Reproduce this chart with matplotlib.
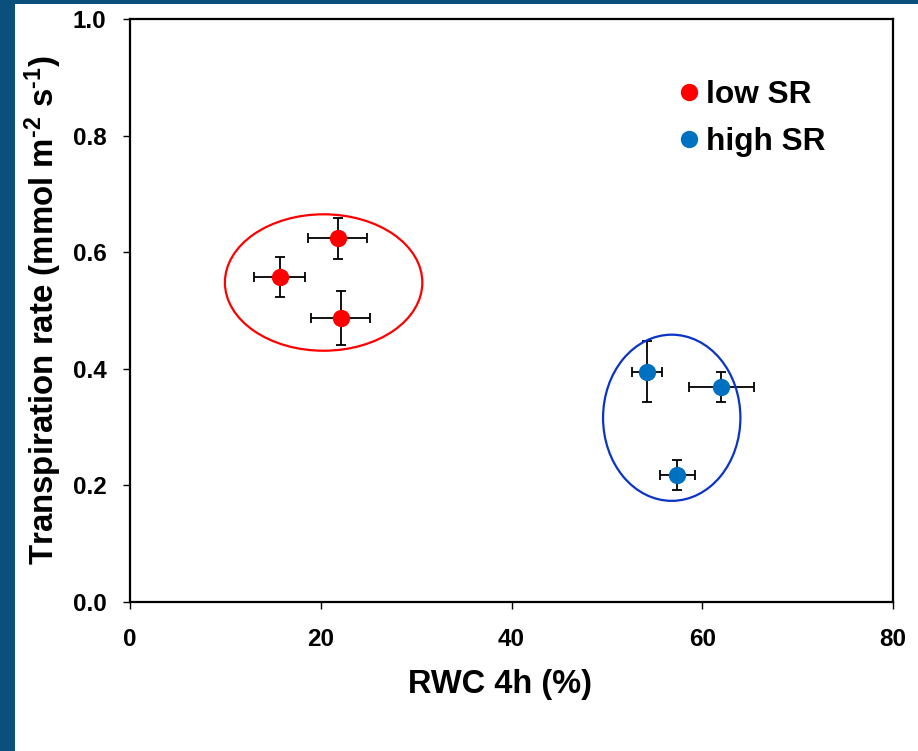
import matplotlib
matplotlib.use("Agg")
import matplotlib.pyplot as plt
from matplotlib.patches import Ellipse, Rectangle
from matplotlib.lines import Line2D

plt.rcParams['font.family'] = ['Liberation Sans', 'DejaVu Sans']
plt.rcParams['font.weight'] = 'bold'
plt.rcParams['mathtext.fontset'] = 'custom'
plt.rcParams['mathtext.rm'] = 'Liberation Sans:bold'
plt.rcParams['mathtext.bf'] = 'Liberation Sans:bold'
plt.rcParams['mathtext.default'] = 'bf'

# RWC after 4 h (%) and transpiration rate (mmol m-2 s-1), mean ± error
low_rwc = [15.7, 21.8, 22.1]
low_rwc_err = [2.7, 3.1, 3.1]
low_tr = [0.557, 0.624, 0.487]
low_tr_err = [0.034, 0.035, 0.046]

high_rwc = [54.2, 62.0, 57.4]
high_rwc_err = [1.6, 3.4, 1.8]
high_tr = [0.395, 0.369, 0.218]
high_tr_err = [0.052, 0.026, 0.026]

# grouping ellipses: centre (x, y), width, height
low_group = [(20.3, 0.548), 20.7, 0.234]
high_group = [(56.8, 0.316), 14.4, 0.285]

labels = ['low SR', 'high SR']
colors = ['#FF0000', '#0070C0']
ring_colors = ['#FF0000', '#0A33C8']

fig = plt.figure(figsize=(9.18, 7.51), dpi=100)
fig.patch.set_facecolor('white')
# dark blue frame strips
fig.add_artist(Rectangle((0, 0), 15 / 918, 1, transform=fig.transFigure,
                         facecolor='#0B4F7C', edgecolor='none', zorder=0))
fig.add_artist(Rectangle((0, 1 - 4 / 751), 1, 4 / 751, transform=fig.transFigure,
                         facecolor='#0B4F7C', edgecolor='none', zorder=0))

ax = fig.add_axes([130 / 918, 1 - 602 / 751, 763 / 918, 583 / 751])

for xs, xe, ys, ye, c in [(low_rwc, low_rwc_err, low_tr, low_tr_err, colors[0]),
                          (high_rwc, high_rwc_err, high_tr, high_tr_err, colors[1])]:
    ax.errorbar(xs, ys, xerr=xe, yerr=ye, fmt='none', ecolor='black',
                elinewidth=1.3, capsize=3.5, capthick=1.3, zorder=2)
    ax.plot(xs, ys, 'o', color=c, markersize=12.5, markeredgewidth=0, zorder=3)

for (ctr, w, h), rc in [(low_group, ring_colors[0]), (high_group, ring_colors[1])]:
    ax.add_patch(Ellipse(ctr, w, h, fill=False, edgecolor=rc, linewidth=1.6, zorder=4))

ax.set_xlim(0, 80)
ax.set_ylim(0, 1.0)
ax.set_xticks([0, 20, 40, 60, 80])
ax.set_yticks([0.0, 0.2, 0.4, 0.6, 0.8, 1.0])
ax.set_yticklabels(['0.0', '0.2', '0.4', '0.6', '0.8', '1.0'])
ax.tick_params(axis='both', direction='out', length=5, width=1.0, labelsize=17.5, colors='black')
ax.tick_params(axis='y', pad=12)
ax.tick_params(axis='x', pad=14)
for s in ax.spines.values():
    s.set_linewidth(1.6)

ax.set_xlabel('RWC 4h (%)', fontsize=23.5, fontweight='bold')
ax.xaxis.set_label_coords(0.485, -0.115)
ax.set_ylabel(r'Transpiration rate (mmol m$^{\text{-2}}$ s$^{\text{-1}}$)',
              fontsize=23.8, fontweight='bold')
ax.yaxis.set_label_coords(-0.087, 0.5)

handles = [Line2D([], [], marker='o', linestyle='none', color=c, markersize=12.5,
                  markeredgewidth=0) for c in colors]
ax.legend(handles, labels, loc='upper left', bbox_to_anchor=(0.7026, 0.917),
          frameon=False, fontsize=22.8, handlelength=0.62, handletextpad=0.25,
          labelspacing=0.55, borderaxespad=0)

fig.savefig('out.png', dpi=100, facecolor='white')
